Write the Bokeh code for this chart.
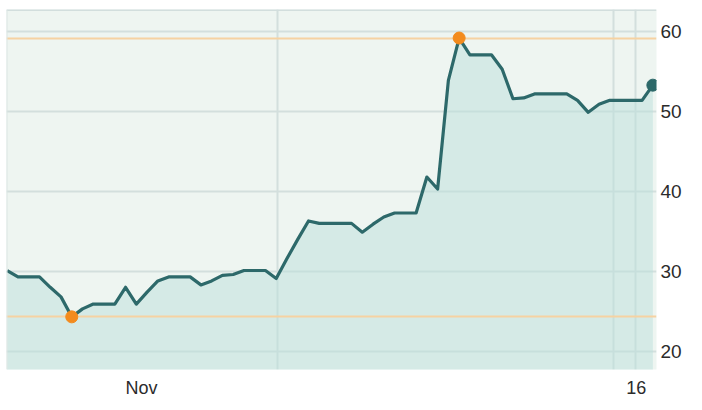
from bokeh.plotting import figure
from bokeh.models import Range1d, FixedTicker, Span
from bokeh.embed import file_html
from bokeh.resources import INLINE

# Daily index (0 = first day shown), closing values
day = list(range(61))
price = [30.1, 29.3, 29.3, 29.3, 28.0, 26.8, 24.3, 25.3, 25.9, 25.9,
         25.9, 28.0, 25.9, 27.4, 28.8, 29.3, 29.3, 29.3, 28.3, 28.8,
         29.5, 29.6, 30.1, 30.1, 30.1, 29.1, 31.6, 34.0, 36.3, 36.0,
         36.0, 36.0, 36.0, 34.9, 35.9, 36.8, 37.3, 37.3, 37.3, 41.8,
         40.3, 53.9, 59.2, 57.1, 57.1, 57.1, 55.3, 51.6, 51.7, 52.2,
         52.2, 52.2, 52.2, 51.4, 49.9, 50.9, 51.4, 51.4, 51.4, 51.4,
         53.3]

# axis labels and grid positions (in day-index units)
x_tick_pos = [12.48, 58.45]
x_tick_labels = ["Nov", "16"]
x_grid_pos = [25.12, 56.35, 58.39]
y_ticks = [20, 30, 40, 50, 60]

LINE = "#2d696a"
FILL = "#bcdfdc"      # drawn at 50% alpha over the background -> #d5eae7
BG = "#eef5f1"
GRID = "#d3dfdd"
ORANGE_LINE = "#f6d2a2"
ORANGE_DOT = "#f38b1d"
FONT = "Liberation Sans"

p = figure(width=694, height=402, output_backend="svg", toolbar_location=None,
           x_range=Range1d(-0.065, 60.34), y_range=Range1d(17.71, 62.77),
           y_axis_location="right", min_border_left=6, min_border_top=9,
           min_border_right=38, min_border_bottom=33)

p.background_fill_color = BG
p.border_fill_color = "white"
p.outline_line_color = None

# area
p.varea(x=day, y1=0, y2=price, fill_color=FILL, fill_alpha=0.5)

# min / max reference lines
ymin, ymax = min(price), max(price)
p.hspan(y=[ymin, ymax], line_color=ORANGE_LINE, line_width=2)

# price line
p.line(day, price, line_color=LINE, line_width=3.2, line_join="round")

imin = price.index(ymin)
imax = price.index(ymax)
p.scatter([day[imin], day[imax]], [ymin, ymax], size=12, color=ORANGE_DOT)
p.scatter([day[-1]], [price[-1]], size=12, color=LINE)

# top and left border
p.add_layout(Span(location=62.77, dimension="width", line_color="#d2dedd", line_width=3))
p.add_layout(Span(location=-0.065, dimension="height", line_color="#dbe5e3", line_width=2))

# grids
p.xgrid.ticker = FixedTicker(ticks=x_grid_pos)
p.xgrid.grid_line_color = GRID
p.xgrid.grid_line_width = 2
p.ygrid.ticker = FixedTicker(ticks=y_ticks)
p.ygrid.grid_line_color = GRID
p.ygrid.grid_line_width = 2

# axes
p.xaxis.ticker = FixedTicker(ticks=x_tick_pos)
p.xaxis.major_label_overrides = {t: l for t, l in zip(x_tick_pos, x_tick_labels)}
p.yaxis.ticker = FixedTicker(ticks=y_ticks)
for ax in (p.xaxis, p.yaxis):
    ax.axis_line_color = None
    ax.major_tick_line_color = None
    ax.minor_tick_line_color = None
    ax.major_tick_out = 0
    ax.major_tick_in = 0
    ax.major_label_text_font = FONT
    ax.major_label_text_color = "#2b2b2b"
p.yaxis.major_label_text_font_size = "19px"
p.yaxis.major_label_standoff = 4
p.xaxis.major_label_text_font_size = "18px"
p.xaxis.major_label_standoff = 8

open("out.html", "w").write(file_html(p, INLINE))
